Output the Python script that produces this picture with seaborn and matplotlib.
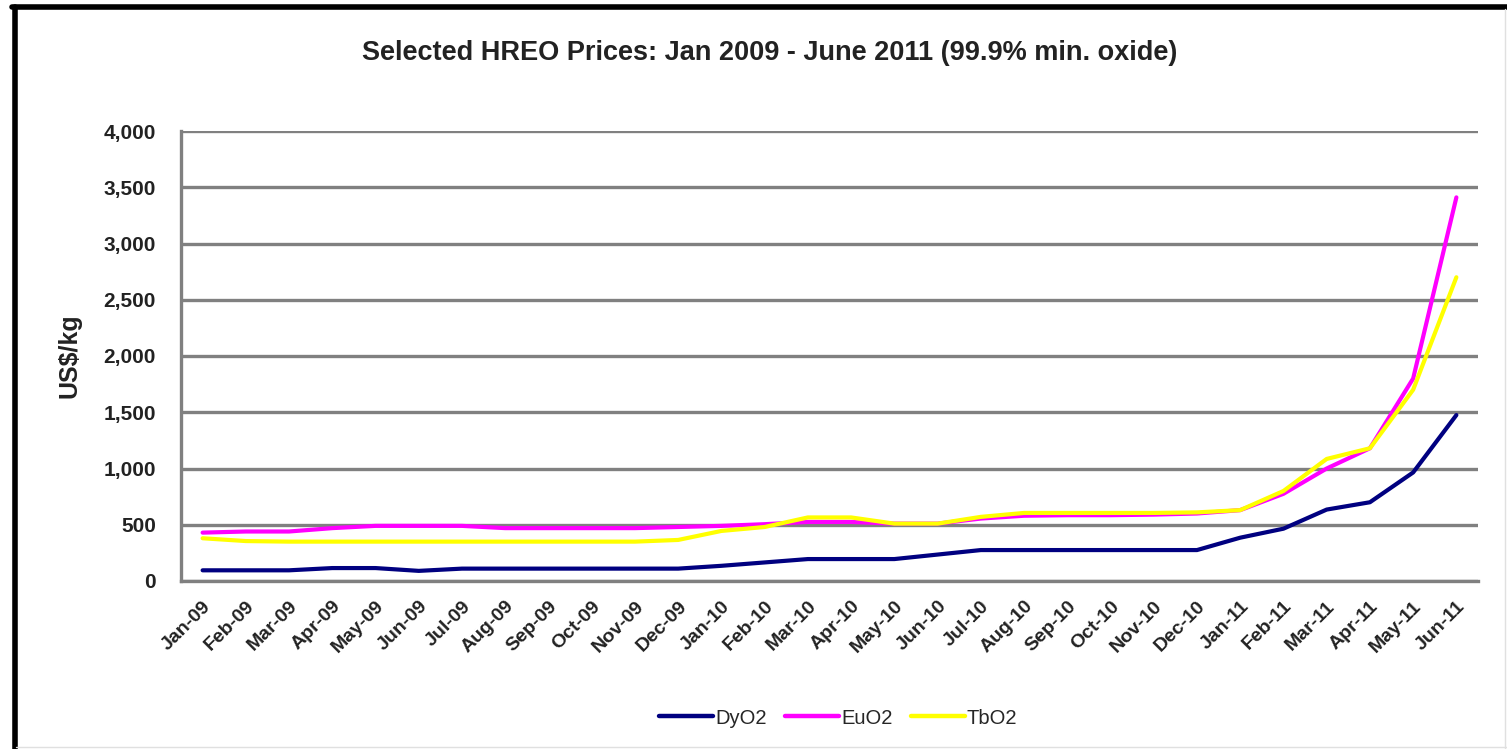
import pandas as pd
import seaborn as sns
import matplotlib.pyplot as plt
from matplotlib.lines import Line2D
from matplotlib.ticker import FuncFormatter

# monthly HREO prices, US$/kg
months = ["Jan-09", "Feb-09", "Mar-09", "Apr-09", "May-09", "Jun-09", "Jul-09", "Aug-09",
          "Sep-09", "Oct-09", "Nov-09", "Dec-09", "Jan-10", "Feb-10", "Mar-10", "Apr-10",
          "May-10", "Jun-10", "Jul-10", "Aug-10", "Sep-10", "Oct-10", "Nov-10", "Dec-10",
          "Jan-11", "Feb-11", "Mar-11", "Apr-11", "May-11", "Jun-11"]
dyo2 = [95, 95, 95, 115, 115, 90, 110, 110, 110, 110, 110, 110, 135, 165, 195, 195,
        195, 235, 275, 275, 275, 275, 275, 275, 385, 465, 635, 700, 965, 1475]
euo2 = [430, 440, 440, 470, 490, 490, 490, 470, 470, 470, 470, 480, 490, 505, 525, 525,
        510, 510, 555, 580, 585, 585, 590, 600, 630, 775, 1000, 1180, 1800, 3410]
tbo2 = [380, 355, 350, 350, 350, 350, 350, 350, 350, 350, 350, 365, 445, 480, 565, 565,
        510, 510, 570, 605, 605, 605, 605, 610, 630, 800, 1085, 1180, 1700, 2700]
series = ["DyO2", "EuO2", "TbO2"]
colours = ["#000080", "#FF00FF", "#FFFF00"]

df = pd.DataFrame({"x": list(range(len(months))) * 3,
                   "price": dyo2 + euo2 + tbo2,
                   "oxide": [s for s in series for _ in months]})

sns.set_style("white")
plt.rcParams["font.family"] = ["Liberation Sans", "DejaVu Sans"]

fig = plt.figure(figsize=(15.07, 7.49), dpi=100)
ax = fig.add_axes([181 / 1507, 1 - 581 / 749, (1478 - 181) / 1507, (581 - 131) / 749])

sns.lineplot(data=df, x="x", y="price", hue="oxide", palette=colours,
             linewidth=3, ax=ax, legend=False, zorder=3)

ax.set_xlim(-0.5, len(months) - 0.5)
ax.set_ylim(0, 4000)
ax.set_yticks(range(0, 4001, 500))
ax.yaxis.set_major_formatter(FuncFormatter(lambda v, p: f"{int(v):,}"))
ax.grid(axis="y", color="#808080", linewidth=2.4, zorder=1)
ax.set_axisbelow(True)

# labels sit on the months, tick marks between them (Excel category axis)
ax.set_xticks(range(len(months)))
ax.set_xticklabels(months, rotation=45, ha="right", rotation_mode="anchor",
                   fontsize=14, fontweight="bold", color="#222222")
ax.set_xticks([i - 0.5 for i in range(len(months) + 1)], minor=True)
ax.tick_params(axis="x", which="major", length=0, pad=12)
ax.tick_params(axis="x", which="minor", length=5, width=2, color="#808080", direction="out")
ax.tick_params(axis="y", length=6, width=2, color="#808080", direction="out", pad=12,
               labelsize=15, labelcolor="#222222")
for lbl in ax.get_yticklabels():
    lbl.set_fontweight("bold")

for side in ["top", "right"]:
    ax.spines[side].set_visible(False)
for side in ["left", "bottom"]:
    ax.spines[side].set_color("#808080")
    ax.spines[side].set_linewidth(2.4)

ax.set_xlabel("")
ax.set_ylabel("US$/kg", fontsize=18, fontweight="bold", color="#222222", labelpad=16)

fig.text(770 / 1507, 1 - 53 / 749, "Selected HREO Prices: Jan 2009 - June 2011 (99.9% min. oxide)",
         ha="center", va="center", fontsize=19.5, fontweight="bold", color="#222222")

handles = [Line2D([0], [0], color=c, linewidth=3.2) for c in colours]
fig.legend(handles, series, loc="center", bbox_to_anchor=(838 / 1507, 1 - 718 / 749),
           ncol=3, frameon=False, fontsize=14.5, handlelength=2.7, handletextpad=0.1,
           columnspacing=0.9)

# outer chart frame
fig.add_artist(Line2D([14.5 / 1507, 14.5 / 1507], [0, 1 - 7 / 749], color="black", linewidth=4))
fig.add_artist(Line2D([12 / 1507, 1], [1 - 7 / 749, 1 - 7 / 749], color="black", linewidth=4))
fig.add_artist(Line2D([1505 / 1507, 1505 / 1507], [0, 1 - 9 / 749], color="#e0e0e0", linewidth=1))
fig.add_artist(Line2D([16 / 1507, 1], [2 / 749, 2 / 749], color="#e0e0e0", linewidth=1))

fig.savefig("out.png", dpi=100)
